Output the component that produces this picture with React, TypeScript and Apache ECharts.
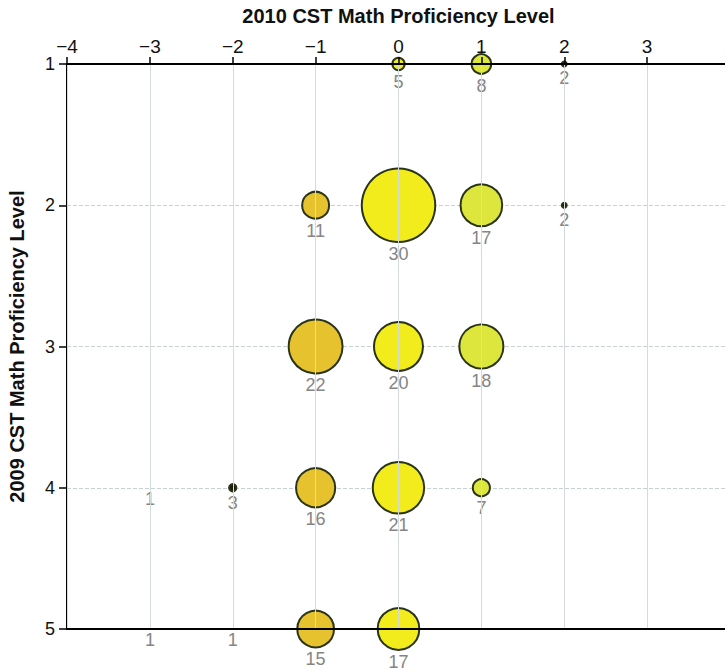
import React, { useEffect, useRef } from "react";
import * as echarts from "echarts";

const xTicks = [-4, -3, -2, -1, 0, 1, 2, 3, 4];
const yLevels = [1, 2, 3, 4, 5];
// [change in level (2010 - 2009), 2009 level, count]
const changeValues = [0, 1, 2, -1, 0, 1, 2, -1, 0, 1, -3, -2, -1, 0, 1, -3, -2, -1, 0];
const level2009 = [1, 1, 1, 2, 2, 2, 2, 3, 3, 3, 4, 4, 4, 4, 4, 5, 5, 5, 5];
const counts = [5, 8, 2, 11, 30, 17, 2, 22, 20, 18, 1, 3, 16, 21, 7, 1, 1, 15, 17];

const xTitle = "2010 CST Math Proficiency Level";
const yTitle = "2009 CST Math Proficiency Level";

function colorFor(x: number, c: number) {
  if (c <= 3) return "#1e1a10";
  if (x < 0) return "#e6c22e";
  if (x === 0) return "#f3ec1c";
  return "#dde63c";
}

export default function App() {
  const ref = useRef<HTMLDivElement>(null);
  useEffect(() => {
    document.body.style.margin = "0";
    const chart = echarts.init(ref.current!, undefined, { renderer: "svg" });
    const data = counts.map((c, i) => [changeValues[i], level2009[i], c]);
    const fmt = (v: number) => String(v).replace("-", "\u2212");
    chart.setOption({
      animation: false,
      backgroundColor: "#ffffff",
      grid: { left: 67, top: 64, right: -5, bottom: 42, outerBoundsMode: "none", containLabel: false },
      xAxis: [
        {
          type: "value",
          position: "top",
          min: xTicks[0],
          max: xTicks[xTicks.length - 1],
          interval: 1,
          z: 3,
          name: xTitle,
          nameLocation: "middle",
          nameGap: 38,
          nameTextStyle: {
            fontFamily: "Liberation Sans",
            fontWeight: "bold",
            fontSize: 20,
            color: "#111",
          },
          axisLine: { show: true, onZero: false, lineStyle: { color: "#000", width: 2 } },
          axisTick: { show: true, length: 7, lineStyle: { color: "#000", width: 1.5 } },
          axisLabel: {
            fontFamily: "Liberation Sans",
            fontSize: 19,
            color: "#111",
            margin: 8,
            formatter: fmt,
          },
          splitLine: { show: true, lineStyle: { color: "#d3dbdb", width: 1 } },
        },
        {
          type: "value",
          position: "bottom",
          min: xTicks[0],
          max: xTicks[xTicks.length - 1],
          interval: 1,
          z: 3,
          axisLine: { show: true, onZero: false, lineStyle: { color: "#000", width: 2 } },
          axisTick: { show: false },
          axisLabel: { show: false },
          splitLine: { show: false },
        },
      ],
      yAxis: {
        type: "value",
        inverse: true,
        min: yLevels[0],
        max: yLevels[yLevels.length - 1],
        interval: 1,
        name: yTitle,
        nameLocation: "middle",
        nameGap: 40,
        nameRotate: 90,
        nameTextStyle: {
          fontFamily: "Liberation Sans",
          fontWeight: "bold",
          fontSize: 20,
          color: "#111",
        },
        axisLine: { show: true, onZero: false, lineStyle: { color: "#000", width: 2 } },
        axisTick: { show: true, length: 8, lineStyle: { color: "#000", width: 1.5 } },
        axisLabel: {
          fontFamily: "Liberation Sans",
          fontSize: 18,
          color: "#111",
          margin: 12,
        },
        splitLine: { show: true, lineStyle: { color: "#c9d2d2", width: 1, type: "dashed" } },
      },
      series: [
        {
          type: "scatter",
          xAxisIndex: 0,
          clip: false,
          z: 2,
          data,
          symbolSize: (d: number[]) => (d[2] <= 1 ? 0 : d[2] * 2.45),
          itemStyle: {
            color: (p: any) => colorFor(p.value[0], p.value[2]),
            borderColor: "#2a3418",
            borderWidth: 2,
            opacity: 1,
          },
          label: {
            show: true,
            position: "bottom",
            distance: 2,
            formatter: (p: any) => String(p.value[2]),
            fontFamily: "Liberation Sans",
            fontSize: 18,
            color: "#858585",
          },
          emphasis: { disabled: true },
        },
      ],
    });
    return () => chart.dispose();
  }, []);
  return <div ref={ref} style={{ width: 725, height: 671 }} />;
}
